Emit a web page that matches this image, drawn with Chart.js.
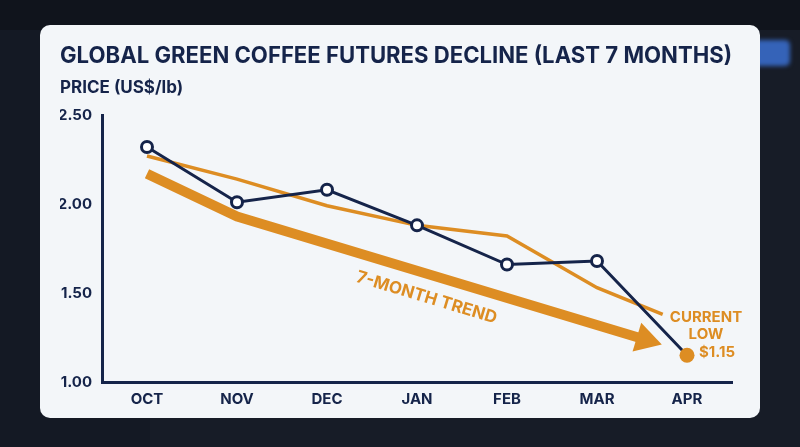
<!DOCTYPE html>
<html>
<head>
<meta charset="utf-8">
<script src="https://cdn.jsdelivr.net/npm/chart.js@4"></script>
<style>
  html, body { margin: 0; width: 800px; height: 447px; overflow: hidden; background: #171c27; }
  .topbar { position: absolute; left: 0; top: 0; width: 800px; height: 30px; background: #10141c; }
  .side { position: absolute; left: 0; top: 30px; width: 150px; height: 417px; background: #141924; }
  .btn { position: absolute; left: 745px; top: 40px; width: 45px; height: 26px; border-radius: 5px; background: #3563b8; filter: blur(2px); }
  .card { position: absolute; left: 40px; top: 25px; width: 720px; height: 393px; background: #f3f6f9; border-radius: 10px; overflow: hidden; }
  canvas { display: block; }
</style>
</head>
<body>
<div class="topbar"></div>
<div class="side"></div>
<div class="btn"></div>
<div class="card"><canvas id="chart" width="720" height="393"></canvas></div>
<script>
const months = ['OCT', 'NOV', 'DEC', 'JAN', 'FEB', 'MAR', 'APR'];
const prices = [2.32, 2.01, 2.08, 1.88, 1.66, 1.68, 1.15];
const avgX = [0, 1, 2, 3, 4, 5, 5.73];
const avgPrices = [2.27, 2.14, 1.99, 1.88, 1.82, 1.53, 1.38];
const trendX = [0, 1, 5.72];
const trendPrices = [2.17, 1.93, 1.21];
const yTicks = [1.00, 1.50, 2.00, 2.50];
const trendLabel = '7-MONTH TREND';
const lowLabel = ['CURRENT', 'LOW', '$1.15'];

const navy = '#15244a';
const orange = '#dd8d23';
const font = 'Inter';

// arrow head + text labels
const annotations = {
  id: 'annotations',
  afterDatasetsUpdate(chart) {
    const pts = chart.getDatasetMeta(2).data;
    const last = pts[pts.length - 1], prev = pts[pts.length - 2];
    const dx = last.x - prev.x, dy = last.y - prev.y, len = Math.hypot(dx, dy);
    const ux = dx / len, uy = dy / len;
    chart.$arrow = { x: last.x, y: last.y, ux, uy, px: prev.x, py: prev.y };
    last.x -= ux * 22;
    last.y -= uy * 22;
  },
  afterDatasetDraw(chart, args) {
    if (args.index !== 2) return;
    const a = chart.$arrow, ctx = chart.ctx;
    const head = 26, half = 15;
    const bx = a.x - a.ux * head, by = a.y - a.uy * head;
    ctx.save();
    ctx.fillStyle = orange;
    ctx.beginPath();
    ctx.moveTo(a.x, a.y);
    ctx.lineTo(bx - a.uy * half, by + a.ux * half);
    ctx.lineTo(bx + a.uy * half, by - a.ux * half);
    ctx.closePath();
    ctx.fill();

    // trend label under the line
    const xs = chart.scales.x;
    const tx = xs.getPixelForValue(3.18);
    const t = (tx - a.px) / (a.x - a.px);
    const ty = a.py + t * (a.y - a.py);
    ctx.translate(tx - a.uy * 23, ty + a.ux * 23);
    ctx.rotate(Math.atan2(a.uy, a.ux));
    ctx.font = `bold 17px ${font}`;
    ctx.textAlign = 'center';
    ctx.textBaseline = 'middle';
    ctx.fillText(trendLabel, 0, 0);
    ctx.restore();
  },
  afterDraw(chart) {
    const pts = chart.getDatasetMeta(0).data;
    const p = pts[pts.length - 1];
    const ctx = chart.ctx;
    ctx.save();
    ctx.fillStyle = orange;
    ctx.font = `bold 15px ${font}`;
    ctx.textBaseline = 'middle';
    ctx.textAlign = 'center';
    ctx.fillText(lowLabel[0], p.x + 19, p.y - 38);
    ctx.fillText(lowLabel[1], p.x + 19, p.y - 21);
    ctx.textAlign = 'left';
    ctx.fillText(lowLabel[2], p.x + 12, p.y - 3);
    ctx.restore();
  }
};

const ctx = document.getElementById('chart');
new Chart(ctx, {
  type: 'line',
  data: {
    datasets: [
      {
        label: 'Price',
        data: prices.map((v, i) => ({ x: i, y: v })),
        borderColor: navy,
        borderWidth: 3,
        pointRadius: prices.map((v, i) => i === prices.length - 1 ? 7.5 : 5.5),
        pointBackgroundColor: prices.map((v, i) => i === prices.length - 1 ? orange : '#ffffff'),
        pointBorderColor: prices.map((v, i) => i === prices.length - 1 ? orange : navy),
        pointBorderWidth: prices.map((v, i) => i === prices.length - 1 ? 0 : 3),
        tension: 0
      },
      {
        label: 'Average',
        data: avgPrices.map((v, i) => ({ x: avgX[i], y: v })),
        borderColor: orange,
        borderWidth: 3.5,
        pointRadius: 0,
        tension: 0
      },
      {
        label: 'Trend',
        data: trendPrices.map((v, i) => ({ x: trendX[i], y: v })),
        borderColor: orange,
        borderWidth: 10,
        borderCapStyle: 'butt',
        borderJoinStyle: 'round',
        pointRadius: 0,
        tension: 0
      }
    ]
  },
  options: {
    responsive: false,
    animation: false,
    events: [],
    layout: { padding: { left: 20, right: 28, top: 0, bottom: 10 } },
    plugins: {
      legend: { display: false },
      tooltip: { enabled: false },
      title: {
        display: true,
        text: 'GLOBAL GREEN COFFEE FUTURES DECLINE (LAST 7 MONTHS)',
        align: 'start',
        color: navy,
        font: { family: font, size: 23, weight: 'bold' },
        padding: { top: 17, bottom: 8 }
      },
      subtitle: {
        display: true,
        text: 'PRICE (US$/lb)',
        align: 'start',
        color: navy,
        font: { family: font, size: 17, weight: 'bold' },
        padding: { top: 0, bottom: 17 }
      }
    },
    scales: {
      x: {
        type: 'linear',
        min: -0.5,
        max: 6.5,
        afterBuildTicks: (s) => { s.ticks = months.map((m, i) => ({ value: i })); },
        grid: { display: false },
        border: { color: navy, width: 3 },
        ticks: {
          callback: (v) => months[v],
          color: navy,
          font: { family: font, size: 15, weight: 'bold' },
          padding: 0,
          maxRotation: 0,
          autoSkip: false
        }
      },
      y: {
        min: 1,
        max: 2.5,
        afterBuildTicks: (s) => { s.ticks = yTicks.map(v => ({ value: v })); },
        afterFit: (s) => { s.width = 42; },
        grid: { display: false, drawTicks: false },
        border: { color: navy, width: 3 },
        ticks: {
          callback: (v) => v.toFixed(2),
          color: navy,
          font: { family: font, size: 15, weight: 'bold' },
          padding: 10
        }
      }
    }
  },
  plugins: [annotations]
});
</script>
</body>
</html>
